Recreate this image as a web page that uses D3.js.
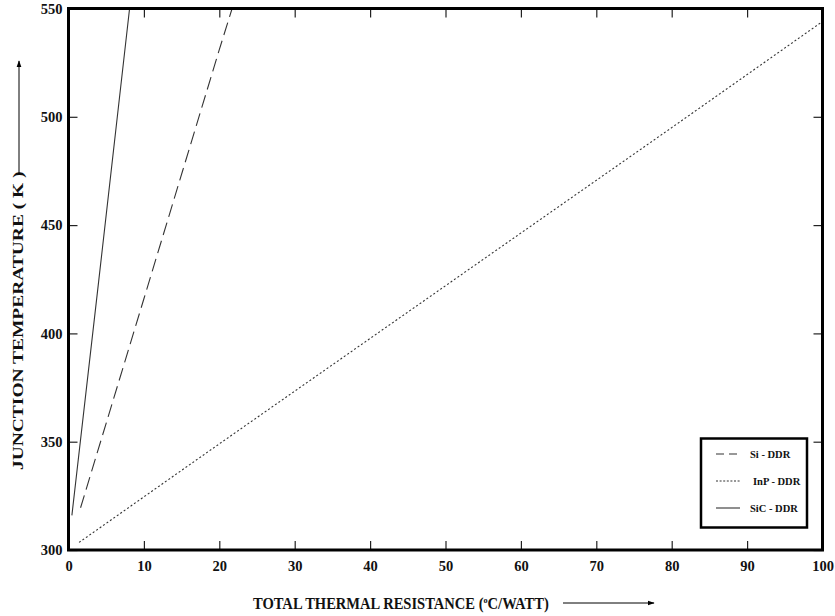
<!DOCTYPE html>
<html>
<head>
<meta charset="utf-8">
<script src="https://cdn.jsdelivr.net/npm/d3@7"></script>
<style>
body { margin: 0; background: #fff; }
svg { display: block; font-family: "Liberation Serif", "Times New Roman", serif; }
</style>
</head>
<body>
<script>
// tick values
var xTicks = [0, 10, 20, 30, 40, 50, 60, 70, 80, 90, 100];
var yTicks = [300, 350, 400, 450, 500, 550];

// series: [thermal resistance, junction temperature]
var siData = [[1.6, 319.5], [10, 416], [20, 531], [21.7, 550]];
var inpData = [[1.4, 303.5], [20, 349], [50, 422], [80, 495], [100, 544]];
var sicData = [[0.45, 316], [4, 424], [8.1, 550]];

var seriesNames = ["Si - DDR", "InP - DDR", "SiC - DDR"];

window.onload = drawChart();
function drawChart(){

	var width = 835,
		height = 616;

	var svg = d3.select("body")
		.append("svg")
		.attr("width", width)
		.attr("height", height);

	var x = d3.scaleLinear().domain([0, 100]).range([68.5, 822.5]);
	var y = d3.scaleLinear().domain([300, 550]).range([550, 8.5]);

	var line = d3.line()
		.x(function(d){ return x(d[0]); })
		.y(function(d){ return y(d[1]); });

	//the data lines
	var series = [
		{ data: siData, dash: "13,6" },
		{ data: inpData, dash: "2,2.2" },
		{ data: sicData, dash: null }
	];

	svg.selectAll(".series")
		.data(series)
		.enter()
		.append("path")
		.attr("class", "series")
		.attr("d", function(d){ return line(d.data); })
		.attr("fill", "none")
		.attr("stroke", "#333")
		.attr("stroke-width", 1.1)
		.attr("stroke-dasharray", function(d){ return d.dash; });

	//axes with inward ticks on all four sides
	var bottom = svg.append("g")
		.attr("transform", "translate(0," + y(300) + ")")
		.call(d3.axisBottom(x).tickValues(xTicks).tickSize(-9).tickPadding(8).tickFormat(d3.format("d")));
	var top = svg.append("g")
		.attr("transform", "translate(0," + y(550) + ")")
		.call(d3.axisTop(x).tickValues(xTicks).tickSize(-9).tickFormat(""));
	var left = svg.append("g")
		.attr("transform", "translate(" + x(0) + ",0)")
		.call(d3.axisLeft(y).tickValues(yTicks).tickSize(-9).tickPadding(6).tickFormat(d3.format("d")));
	var right = svg.append("g")
		.attr("transform", "translate(" + x(100) + ",0)")
		.call(d3.axisRight(y).tickValues(yTicks).tickSize(-9).tickFormat(""));

	svg.selectAll(".domain").remove();
	svg.selectAll(".tick line").attr("stroke", "#222").attr("stroke-width", 1.2);
	svg.selectAll(".tick text")
		.attr("font-family", "Liberation Serif, serif")
		.attr("font-size", 14.5)
		.attr("font-weight", "bold")
		.attr("fill", "#111");
	bottom.selectAll(".tick text").attr("dy", "0.9em");

	//frame
	svg.append("rect")
		.attr("x", x(0))
		.attr("y", y(550))
		.attr("width", x(100) - x(0))
		.attr("height", y(300) - y(550))
		.attr("fill", "none")
		.attr("stroke", "#000")
		.attr("stroke-width", 3);

	//arrow marker
	svg.append("defs").append("marker")
		.attr("id", "arrow")
		.attr("viewBox", "0 0 10 10")
		.attr("refX", 9).attr("refY", 5)
		.attr("markerWidth", 7).attr("markerHeight", 7)
		.attr("orient", "auto")
		.append("path")
		.attr("d", "M0,1.5L10,5L0,8.5Z")
		.attr("fill", "#000");

	//axis titles (the original glyphs are squeezed / stretched)
	var xt = svg.append("text")
		.attr("transform", "translate(253,609) scale(0.91,1)")
		.attr("font-size", 16)
		.attr("font-weight", "bold")
		.attr("fill", "#111");
	xt.append("tspan").text("TOTAL THERMAL RESISTANCE (");
	xt.append("tspan").attr("font-size", 9).attr("dy", -6).text("o");
	xt.append("tspan").attr("dy", 6).text("C/WATT)");

	svg.append("line")
		.attr("x1", 563).attr("y1", 603)
		.attr("x2", 654).attr("y2", 603)
		.attr("stroke", "#000")
		.attr("stroke-width", 1)
		.attr("marker-end", "url(#arrow)");

	svg.append("text")
		.attr("transform", "translate(22.5,470) rotate(-90) scale(1.39,1)")
		.attr("font-size", 14)
		.attr("font-weight", "bold")
		.attr("fill", "#111")
		.text("JUNCTION TEMPERATURE ( K )");

	svg.append("line")
		.attr("x1", 19).attr("y1", 174)
		.attr("x2", 19).attr("y2", 61)
		.attr("stroke", "#000")
		.attr("stroke-width", 1)
		.attr("marker-end", "url(#arrow)");

	//legend
	svg.append("rect")
		.attr("x", 701)
		.attr("y", 438.5)
		.attr("width", 106)
		.attr("height", 89)
		.attr("fill", "#fff")
		.attr("stroke", "#000")
		.attr("stroke-width", 2.5);

	var legend = svg.selectAll(".legend")
		.data(series)
		.enter()
		.append("g")
		.attr("class", "legend")
		.attr("transform", function(d, i){ return "translate(716," + [454, 481, 508][i] + ")"; });

	legend.append("line")
		.attr("x1", 0).attr("x2", 24)
		.attr("stroke", "#333")
		.attr("stroke-width", 1.1)
		.attr("stroke-dasharray", function(d, i){ return i == 0 ? "8,5" : (i == 1 ? "2,1.6" : null); });

	legend.append("text")
		.attr("x", function(d, i){ return i == 1 ? 37 : 34; })
		.attr("dy", "0.35em")
		.attr("font-size", 10.5)
		.attr("font-weight", "bold")
		.attr("fill", "#111")
		.text(function(d, i){ return seriesNames[i]; });
};
</script>
</body>
</html>
